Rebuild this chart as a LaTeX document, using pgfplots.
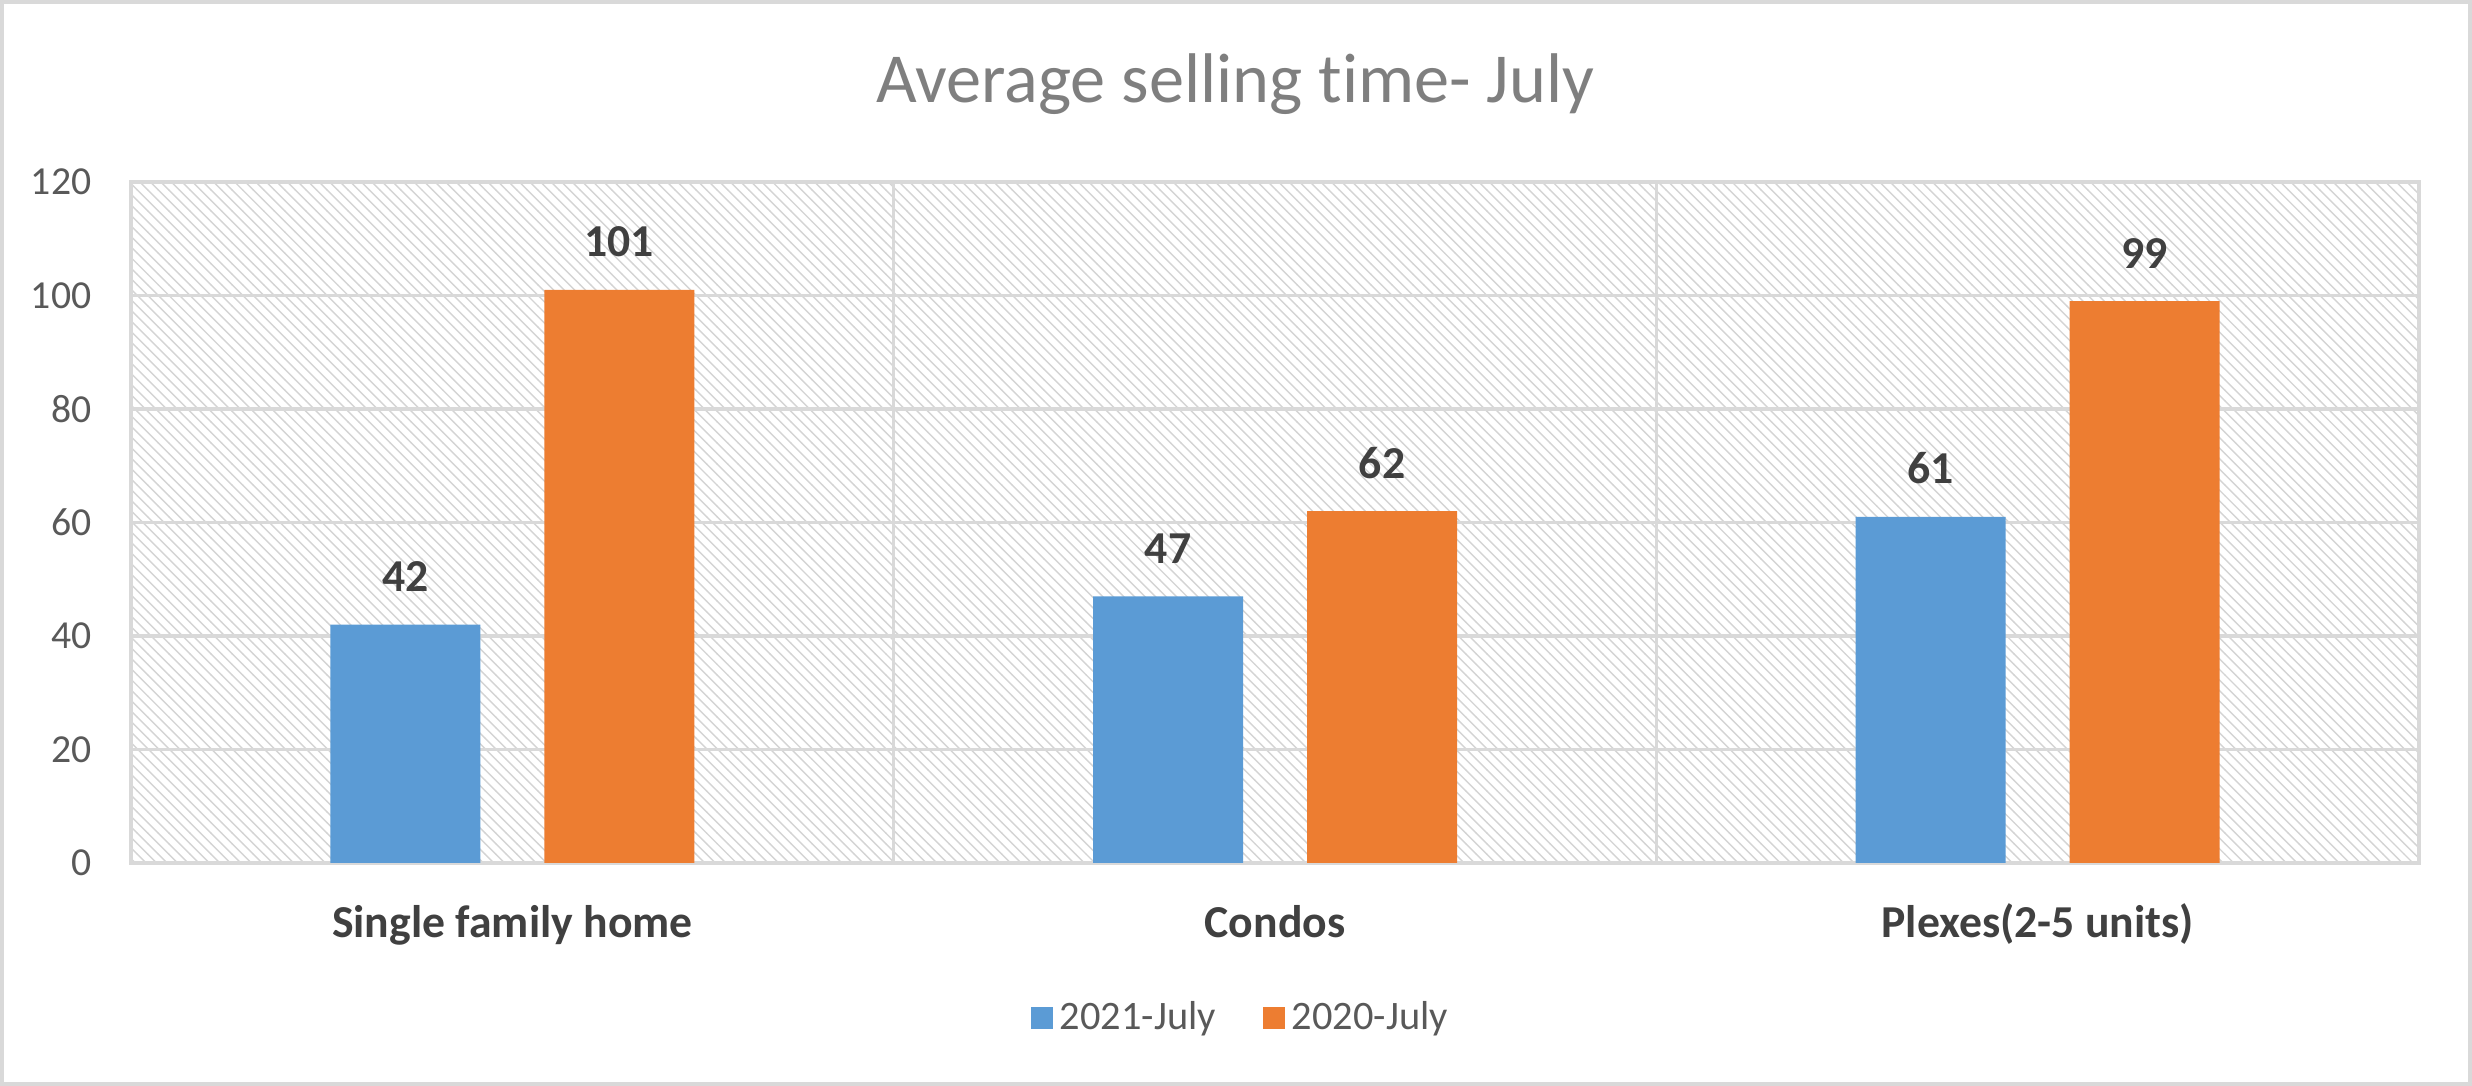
\documentclass[border=0pt]{standalone}
\usepackage{pgfplots}
\pgfplotsset{compat=1.18}
\usepackage{fontspec}
\setmainfont[Ligatures=NoCommon]{Carlito}
\usetikzlibrary{patterns}
\definecolor{cblue}{HTML}{5B9BD5}
\definecolor{corange}{HTML}{ED7D31}
\definecolor{tgray}{HTML}{595959}
\definecolor{titlegray}{HTML}{7F7F7F}
\definecolor{dgray}{HTML}{404040}
\definecolor{lgray}{HTML}{D9D9D9}
\begin{document}
\begin{tikzpicture}
\path[use as bounding box] (0,0) rectangle (24.72cm,10.86cm);
\draw[lgray, line width=1.2pt] (0.02cm,0.02cm) rectangle (24.70cm,10.84cm);
\node[text=titlegray, font=\fontsize{20}{24}\selectfont, anchor=base, inner sep=0] at (12.35cm,9.83cm) {Average selling time- July};
\begin{axis}[
  at={(1.31cm,2.23cm)}, anchor=south west,
  scale only axis, width=22.88cm, height=6.81cm,
  ybar=0.64cm, bar width=1.5cm,
  xmin=-0.5, xmax=2.5, ymin=0, ymax=120,
  ytick={0,20,...,120},
  xtick={0,1,2},
  xticklabels={Single family home, Condos, Plexes(2-5 units)},
  minor xtick={0.5,1.5},
  xminorgrids=true, ymajorgrids=true,
  major grid style={lgray, line width=0.9pt},
  minor grid style={lgray, line width=0.9pt},
  axis line style={lgray, line width=0.9pt},
  major tick length=0, minor tick length=0,
  tick style={draw=none},
  /pgf/number format/assume math mode=true,
  yticklabel style={font=\fontsize{11.3}{13}\selectfont, text=tgray, inner sep=0, anchor=east, xshift=-0.39cm},
  xticklabel style={font=\fontsize{13}{15}\bfseries\selectfont, text=dgray, inner sep=0, anchor=base, yshift=-0.75cm},
  axis background/.style={pattern=north west lines, pattern color=black!17},
  nodes near coords,
  every node near coord/.append style={font=\fontsize{13}{15}\bfseries\selectfont, text=dgray, anchor=base, inner sep=0, yshift=0.33cm},
  legend style={at={(0.486,-0.2276)}, anchor=center, draw=none, fill=none, legend columns=2,
    font=\fontsize{11.5}{13}\selectfont, text=tgray,
    /tikz/every even column/.append style={column sep=0.4cm}},
  legend image code/.code={\fill[#1] (0cm,-0.11cm) rectangle (0.22cm,0.11cm);},
]
\addplot[fill=cblue, draw=none] coordinates {(0,42) (1,47) (2,61)};
\addplot[fill=corange, draw=none] coordinates {(0,101) (1,62) (2,99)};
\legend{2021-July, 2020-July}
\end{axis}
\end{tikzpicture}
\end{document}
